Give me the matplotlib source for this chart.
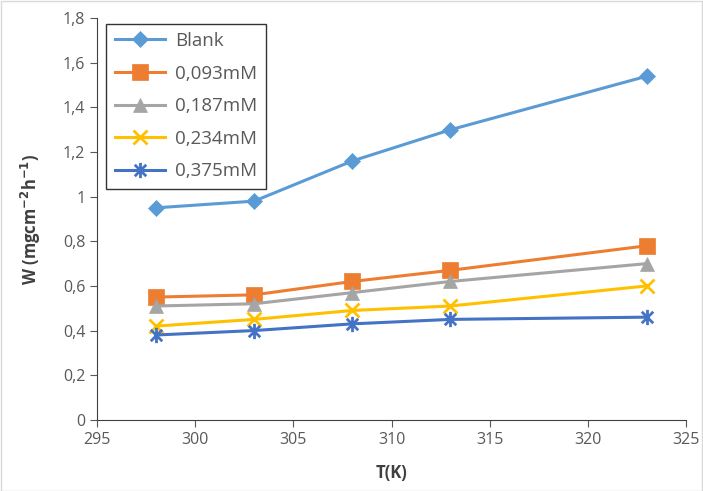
import matplotlib
matplotlib.use("Agg")
import matplotlib.pyplot as plt
from matplotlib.path import Path

temps = [298, 303, 308, 313, 323]
blank = [0.95, 0.98, 1.16, 1.30, 1.54]
c_093 = [0.55, 0.56, 0.62, 0.67, 0.78]
c_187 = [0.51, 0.52, 0.57, 0.62, 0.70]
c_234 = [0.42, 0.45, 0.49, 0.51, 0.60]
c_375 = [0.38, 0.40, 0.43, 0.45, 0.46]
labels = ["Blank", "0,093mM", "0,187mM", "0,234mM", "0,375mM"]
xticks = [295, 300, 305, 310, 315, 320, 325]
yticks = [0, 0.2, 0.4, 0.6, 0.8, 1.0, 1.2, 1.4, 1.6, 1.8]

plt.rcParams['font.family'] = ['Open Sans', 'DejaVu Sans']

# excel style star: an X with a vertical bar through it
star = Path([(0, -1), (0, 1), (-0.75, -0.75), (0.75, 0.75), (-0.75, 0.75), (0.75, -0.75)],
            [Path.MOVETO, Path.LINETO, Path.MOVETO, Path.LINETO, Path.MOVETO, Path.LINETO])

fig = plt.figure(figsize=(7.03, 4.91), dpi=100)
ax = fig.add_axes([0.138, 0.145, 0.838, 0.818])

series = [blank, c_093, c_187, c_234, c_375]
colors = ['#5B9BD5', '#ED7D31', '#A5A5A5', '#FFC000', '#4472C4']
markers = ['D', 's', '^', 'x', star]
sizes = [8.5, 11, 10, 10, 11]
for vals, lab, col, mk, ms in zip(series, labels, colors, markers, sizes):
    line_mk = mk in ('x',) or mk is star
    ax.plot(temps, vals, color=col, lw=2.2, marker=mk, markersize=ms,
            markeredgewidth=2 if line_mk else 0.5,
            markeredgecolor=col, label=lab)

ax.set_xlim(295, 325)
ax.set_ylim(0, 1.8)
ax.set_xticks(xticks)
ax.set_yticks(yticks)
ax.set_yticklabels(["0" if v == 0 else ("1" if v == 1 else f"{v:.1f}".replace(".", ",")) for v in yticks])
ax.tick_params(colors='#595959', labelsize=11.5, direction='out', length=5)
for s in ['top', 'right']:
    ax.spines[s].set_visible(False)
for s in ['left', 'bottom']:
    ax.spines[s].set_color('#404040')

ax.set_xlabel("T(K)", fontsize=12, fontweight='bold', color='#404040', labelpad=12)
ax.set_ylabel("W (mgcm$^{\\mathbf{-2}}$h$^{\\mathbf{-1}}$)", fontsize=12, fontweight='bold',
              color='#404040', labelpad=14)

leg = ax.legend(loc='upper left', bbox_to_anchor=(0.0, 1.01), fontsize=13.5,
                frameon=True, fancybox=False, edgecolor='black', labelcolor='#595959',
                handlelength=2.7, handletextpad=0.5, labelspacing=0.78, borderpad=0.45)
leg.get_frame().set_linewidth(1.0)

fig.patches.append(plt.Rectangle((0.001, 0.001), 0.997, 0.997, transform=fig.transFigure,
                                 fill=False, edgecolor='#D9D9D9', lw=1))

fig.savefig("out.png", dpi=100)
